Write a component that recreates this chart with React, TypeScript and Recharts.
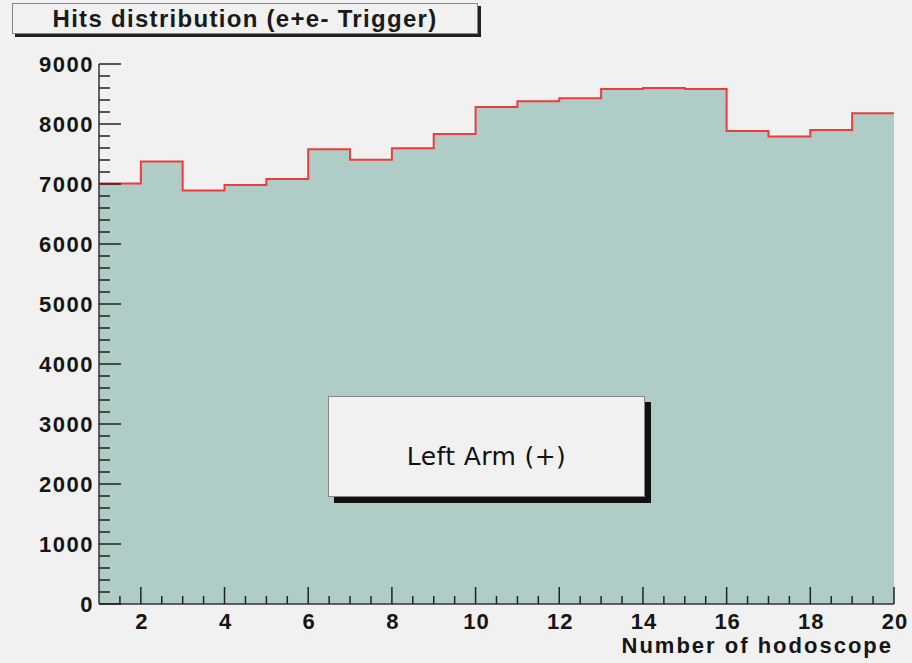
import { ComposedChart, Area, XAxis, YAxis } from "recharts";

// hodoscope bins (lower edge) and hit counts
const bins = [1, 2, 3, 4, 5, 6, 7, 8, 9, 10, 11, 12, 13, 14, 15, 16, 17, 18, 19];
const hits = [
  7010, 7375, 6890, 6985, 7085, 7580, 7405, 7595, 7835, 8285, 8380, 8430, 8585,
  8600, 8585, 7885, 7790, 7900, 8180,
];
const xMajor = [2, 4, 6, 8, 10, 12, 14, 16, 18, 20];
const yMajor = [0, 1000, 2000, 3000, 4000, 5000, 6000, 7000, 8000, 9000];

const xTicks = Array.from({ length: 38 }, (_, i) => 1.5 + i * 0.5);
const yTicks = Array.from({ length: 46 }, (_, i) => i * 200);

// last bin needs a closing point at its upper edge for the step shape
const data = [
  ...bins.map((b, i) => ({ x: b, hits: hits[i] })),
  { x: bins[bins.length - 1] + 1, hits: hits[hits.length - 1] },
];

const BG = "#f1f1f1";
const FONT = '"Liberation Sans", Arial, sans-serif';

function XTick(props: any) {
  const { x, y, payload } = props;
  const v = payload.value;
  const major = xMajor.includes(v);
  return (
    <g>
      <line x1={x} x2={x} y1={y} y2={y - (major ? 17 : 8)} stroke="#222" strokeWidth={1.5} />
      {major && (
        <text x={x + 1} y={y + 25} textAnchor="middle" fontSize={22} fontWeight="bold" fill="#151515" letterSpacing={1} fontFamily={FONT}>
          {v}
        </text>
      )}
    </g>
  );
}

function YTick(props: any) {
  const { x, y, payload } = props;
  const v = payload.value;
  const major = yMajor.includes(v);
  return (
    <g>
      <line x1={x} x2={x + (major ? 22 : 11)} y1={y} y2={y} stroke="#222" strokeWidth={1.5} />
      {major && (
        <text x={x - 5} y={y + 8} textAnchor="end" fontSize={22} fontWeight="bold" fill="#151515" letterSpacing={1.5} fontFamily={FONT}>
          {v}
        </text>
      )}
    </g>
  );
}

export default function App() {
  return (
    <div style={{ position: "absolute", left: 0, top: 0, width: 912, height: 663, background: BG, fontFamily: FONT, overflow: "hidden" }}>
      <ComposedChart width={912} height={663} data={data} margin={{ top: 64, right: 18, left: 0, bottom: 0 }}>
        <Area
          xAxisId="main"
          yAxisId="main"
          type="stepAfter"
          dataKey="hits"
          fill="#afcdc6"
          fillOpacity={1}
          stroke="#ee3b3b"
          strokeWidth={2}
          isAnimationActive={false}
        />
        <XAxis xAxisId="top" orientation="top" type="number" domain={[1, 20]} height={0} tick={false} tickLine={false} axisLine={{ stroke: "#777", strokeWidth: 1.5 }} />
        <YAxis yAxisId="right" orientation="right" type="number" domain={[0, 9000]} width={0} tick={false} tickLine={false} axisLine={{ stroke: "#777", strokeWidth: 1.5 }} />
        <XAxis
          xAxisId="main"
          dataKey="x"
          type="number"
          domain={[1, 20]}
          allowDataOverflow
          ticks={xTicks}
          interval={0}
          height={59}
          tickSize={0}
          tickMargin={0}
          tickLine={false}
          tick={<XTick />}
          axisLine={{ stroke: "#333", strokeWidth: 1.5 }}
        />
        <YAxis
          yAxisId="main"
          type="number"
          domain={[0, 9000]}
          allowDataOverflow
          ticks={yTicks}
          interval={0}
          width={99}
          tickSize={0}
          tickMargin={0}
          tickLine={false}
          tick={<YTick />}
          axisLine={{ stroke: "#333", strokeWidth: 1.5 }}
        />
      </ComposedChart>

      <div
        style={{
          position: "absolute",
          right: 19,
          top: 633,
          fontSize: 22,
          fontWeight: "bold",
          letterSpacing: 2,
          color: "#151515",
          lineHeight: "26px",
        }}
      >
        Number of hodoscope
      </div>

      <div
        style={{
          position: "absolute",
          left: 12,
          top: 3,
          width: 464,
          height: 29,
          border: "1px solid #888",
          background: BG,
          boxShadow: "3px 3px 0 #222",
          textAlign: "center",
          fontSize: 24,
          fontWeight: "bold",
          letterSpacing: 1.3,
          lineHeight: "30px",
          color: "#1a1a1a",
        }}
      >
        Hits distribution (e+e- Trigger)
      </div>

      <div
        style={{
          position: "absolute",
          left: 328,
          top: 396,
          width: 315,
          height: 99,
          border: "1px solid #888",
          background: BG,
          boxShadow: "6px 6px 0 #111",
          textAlign: "center",
          fontFamily: '"DejaVu Sans", sans-serif',
          fontSize: 25,
          lineHeight: "24px",
          color: "#111",
        }}
      >
        <div style={{ marginTop: 48, letterSpacing: 0.4 }}>Left Arm (+)</div>
      </div>
    </div>
  );
}
